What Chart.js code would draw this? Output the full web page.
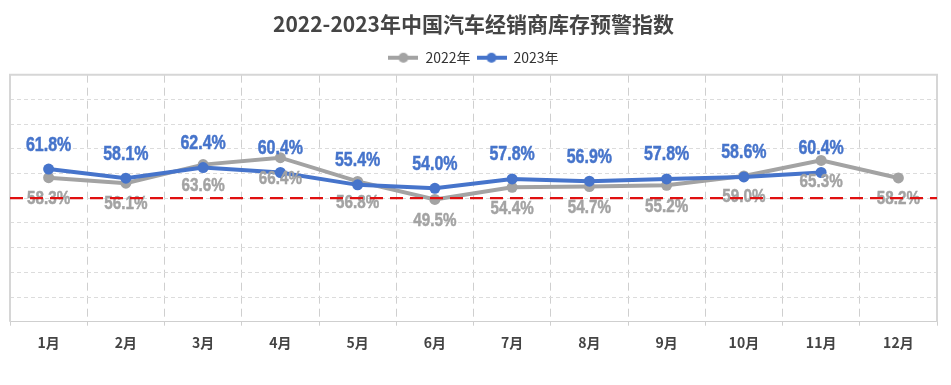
<!DOCTYPE html>
<html>
<head>
<meta charset="utf-8">
<script src="https://cdn.jsdelivr.net/npm/chart.js@4.4.1/dist/chart.umd.min.js"></script>
<style>
html,body{margin:0;padding:0;background:#fff;}
#wrap{width:951px;height:385px;position:relative;}
</style>
</head>
<body>
<div id="wrap"><canvas id="c" width="951" height="385"></canvas></div>
<script>
const TITLE = '2022-2023年中国汽车经销商库存预警指数';
const months = ['1月','2月','3月','4月','5月','6月','7月','8月','9月','10月','11月','12月'];
const series2022 = [58.3, 56.1, 63.6, 66.4, 56.8, 49.5, 54.4, 54.7, 55.2, 59.0, 65.3, 58.2];
const series2023 = [61.8, 58.1, 62.4, 60.4, 55.4, 54.0, 57.8, 56.9, 57.8, 58.6, 60.4, null];
const WARNING_LINE = 50;
const Y_MIN = 0, Y_MAX = 100, Y_STEP = 10;

const GRAY = '#a3a3a3';
const BLUE = '#4674cb';
const SANS = "'Liberation Sans', Arial, sans-serif";
const CJK = "'Noto Sans CJK SC', 'Noto Sans', sans-serif";

function legendIcon(color){
  const c = document.createElement('canvas');
  c.width = 30; c.height = 12;
  const g = c.getContext('2d');
  g.strokeStyle = color; g.lineWidth = 4;
  g.beginPath(); g.moveTo(0,6); g.lineTo(30,6); g.stroke();
  g.fillStyle = color;
  g.beginPath(); g.arc(15,6,5,0,Math.PI*2); g.fill();
  return c;
}

const labelPlugin = {
  id: 'valueLabels',
  afterDatasetsDraw(chart){
    const ctx = chart.ctx;
    chart.data.datasets.forEach((ds, i) => {
      const meta = chart.getDatasetMeta(i);
      const above = ds._labelPos === 'above';
      meta.data.forEach((pt, j) => {
        const v = ds.data[j];
        if (v === null || v === undefined) return;
        const y = above ? pt.y - 24 : pt.y + 21;
        ctx.save();
        ctx.font = (above ? 'bold 20px ' : 'bold 19px ') + SANS;
        ctx.fillStyle = ds.borderColor;
        ctx.strokeStyle = ds.borderColor;
        ctx.lineWidth = 0.5;
        ctx.textAlign = 'center';
        ctx.textBaseline = 'middle';
        ctx.translate(pt.x, y);
        ctx.scale(0.8, 1);
        const t = v.toFixed(1) + '%';
        ctx.fillText(t, 0, 0);
        ctx.strokeText(t, 0, 0);
        ctx.restore();
      });
    });
  }
};

const framePlugin = {
  id: 'frameAndWarning',
  beforeDatasetsDraw(chart){
    const {ctx, chartArea:a} = chart;
    ctx.save();
    ctx.strokeStyle = '#d6d6d6';
    ctx.lineWidth = 2;
    ctx.beginPath();
    ctx.moveTo(a.left, a.bottom); ctx.lineTo(a.left, a.top); ctx.lineTo(a.right, a.top); ctx.lineTo(a.right, a.bottom);
    ctx.stroke();
    ctx.restore();
  },
  afterDraw(chart){
    const {ctx, chartArea:a, scales} = chart;
    const y = scales.y.getPixelForValue(WARNING_LINE);
    ctx.save();
    ctx.strokeStyle = '#e01010';
    ctx.lineWidth = 2.2;
    ctx.setLineDash([13,7]);
    ctx.beginPath(); ctx.moveTo(a.left, y); ctx.lineTo(a.right, y); ctx.stroke();
    ctx.restore();
  }
};

new Chart(document.getElementById('c'), {
  type: 'line',
  data: {
    labels: months,
    datasets: [
      { label: '2022年', data: series2022, borderColor: GRAY, backgroundColor: GRAY,
        borderWidth: 4, pointRadius: 5.5, pointBorderWidth: 0, pointHoverRadius: 5.5,
        tension: 0, order: 1, _labelPos: 'below', pointStyle: 'circle', _icon: legendIcon(GRAY) },
      { label: '2023年', data: series2023, borderColor: BLUE, backgroundColor: BLUE,
        borderWidth: 4, pointRadius: 5.5, pointBorderWidth: 0, pointHoverRadius: 5.5,
        tension: 0, order: 0, _labelPos: 'above', pointStyle: 'circle', _icon: legendIcon(BLUE) }
    ]
  },
  options: {
    responsive: false,
    animation: false,
    devicePixelRatio: 1,
    layout: { padding: { left: 10, right: 14, top: 3.5, bottom: 24.5 } },
    plugins: {
      title: { display: true, text: TITLE, color: '#454545',
        font: { family: CJK, size: 21, weight: 'bold' }, padding: { top: 8, bottom: 8 } },
      legend: {
        position: 'top',
        labels: {
          color: '#333', font: { family: CJK, size: 14 }, padding: 6, boxHeight: 12,
          usePointStyle: true, pointStyleWidth: 30,
          sort: (a, b) => a.datasetIndex - b.datasetIndex,
          generateLabels(chart){
            return chart.data.datasets.map((ds, i) => ({
              text: ds.label, fillStyle: ds.borderColor, strokeStyle: ds.borderColor,
              pointStyle: ds._icon, datasetIndex: i, hidden: false, lineWidth: 0, fontColor: '#333'
            }));
          }
        }
      },
      tooltip: { enabled: false }
    },
    scales: {
      x: {
        offset: true,
        grid: { display: true, offset: true, color: '#cfcfcf', lineWidth: 1, tickLength: 4,
          tickBorderDash: [8,5], drawOnChartArea: true },
        border: { display: true, color: '#cfcfcf', dash: [8,5] },
        ticks: { color: '#444', padding: 9, font: { family: CJK, size: 14, weight: 'bold' } }
      },
      y: {
        min: Y_MIN, max: Y_MAX,
        ticks: { display: false, stepSize: Y_STEP },
        grid: { color: '#dcdcdc', drawTicks: false },
        border: { display: false, dash: [4,3] }
      }
    }
  },
  plugins: [framePlugin, labelPlugin]
});
</script>
</body>
</html>
